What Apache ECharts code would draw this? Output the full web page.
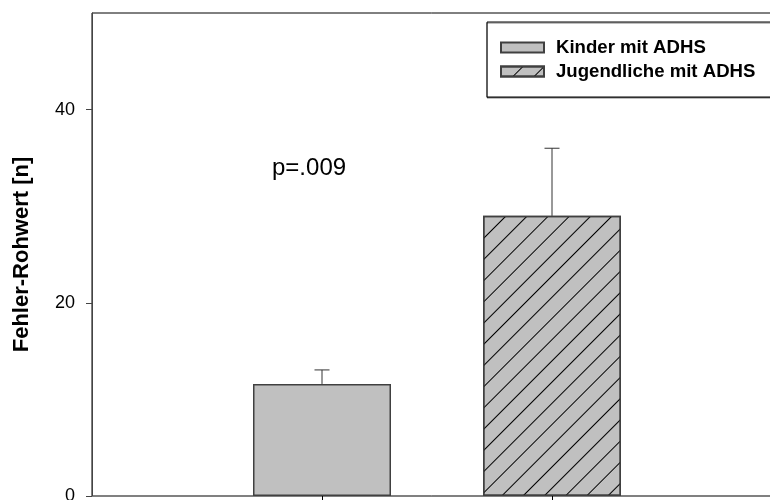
<!DOCTYPE html>
<html>
<head>
<meta charset="utf-8">
<script src="https://cdn.jsdelivr.net/npm/echarts@6/dist/echarts.min.js"></script>
<style>html,body{margin:0;padding:0;background:#fff}#c{width:770px;height:500px}</style>
</head>
<body>
<div id="c"></div>
<script>
const categories = ['Kinder mit ADHS', 'Jugendliche mit ADHS'];
const means = [11.6, 29.0];
const errors = [1.45, 7.0];
const yTicks = [0, 20, 40];
const yTitle = 'Fehler-Rohwert [n]';
const pText = 'p=.009';

const FONT = 'Liberation Sans, Arial, Helvetica, sans-serif';
const xCats = [''].concat(categories, ['']);
function seriesData(i) {
  return xCats.map((c, k) => (k === i + 1 ? means[i] : '-'));
}
const errData = categories.map((c, i) => [i + 1, means[i], errors[i]]);

const chart = echarts.init(document.getElementById('c'), null, {renderer: 'canvas'});
const hatch = {
  symbol: 'rect', symbolSize: 1, color: '#000',
  dashArrayX: [1, 0], dashArrayY: [1, 14], rotation: -Math.PI / 4
};
chart.setOption({
  animation: false,
  backgroundColor: '#fff',
  grid: {left: 92, top: 13, width: 690, height: 483, outerBoundsMode: 'none', containLabel: false,
    show: true, borderColor: '#000', borderWidth: 1, backgroundColor: 'transparent'},
  legend: {
    orient: 'vertical', left: 487, top: 22,
    padding: [16, 40, 16, 13],
    itemGap: 5, itemWidth: 43, itemHeight: 10,
    backgroundColor: '#fff', borderColor: '#000', borderWidth: 1,
    shadowColor: 'rgba(0,0,0,0.5)', shadowOffsetY: 1, shadowBlur: 0,
    textStyle: {fontFamily: FONT, fontSize: 18.6, fontWeight: 'bold', color: '#000', padding: [0, 0, 0, 7]},
    data: categories.map(n => ({name: n, icon: 'rect'}))
  },
  xAxis: {
    type: 'category', data: xCats, boundaryGap: false,
    axisLine: {lineStyle: {color: '#808080', width: 1}},
    axisTick: {show: true, length: 4, inside: false, interval: (idx) => idx > 0 && idx < xCats.length - 1, lineStyle: {color: '#000'}},
    axisLabel: {show: false},
    splitLine: {show: false}
  },
  yAxis: {
    type: 'value', min: 0, max: 50, interval: 10,
    name: yTitle, nameLocation: 'middle', nameRotate: 90, nameGap: 59,
    nameTextStyle: {fontFamily: FONT, fontSize: 22, fontWeight: 'bold', color: '#000'},
    axisLine: {show: true, lineStyle: {color: '#444', width: 1}},
    axisTick: {show: true, length: 6, customValues: yTicks, lineStyle: {color: '#444'}},
    axisLabel: {customValues: yTicks, margin: 17, fontFamily: FONT, fontSize: 18, color: '#000'},
    splitLine: {show: false}
  },
  graphic: [{
    type: 'text', left: 272, top: 156, z: 10,
    style: {text: pText, font: '24px ' + FONT, fill: '#000'}
  }],
  series: [
    {
      name: categories[0], type: 'bar', data: seriesData(0), barWidth: 138, barGap: '-100%',
      itemStyle: {color: '#c0c0c0', borderColor: '#404040', borderWidth: 1.5}
    },
    {
      name: categories[1], type: 'bar', data: seriesData(1), barWidth: 138, barGap: '-100%',
      itemStyle: {color: '#c0c0c0', borderColor: '#404040', borderWidth: 1.5, decal: hatch}
    },
    {
      type: 'custom', data: errData, z: 5, silent: true,
      renderItem: function (params, api) {
        const x = api.value(0), m = api.value(1), e = api.value(2);
        const p0 = api.coord([x, m]);
        const p1 = api.coord([x, m + e]);
        const hw = 7.5;
        return {
          type: 'group',
          children: [
            {type: 'line', shape: {x1: p0[0], y1: p0[1], x2: p1[0], y2: p1[1]}, style: {stroke: '#333', lineWidth: 1}},
            {type: 'line', shape: {x1: p1[0] - hw, y1: p1[1], x2: p1[0] + hw, y2: p1[1]}, style: {stroke: '#333', lineWidth: 1}}
          ]
        };
      }
    }
  ]
});
</script>
</body>
</html>
